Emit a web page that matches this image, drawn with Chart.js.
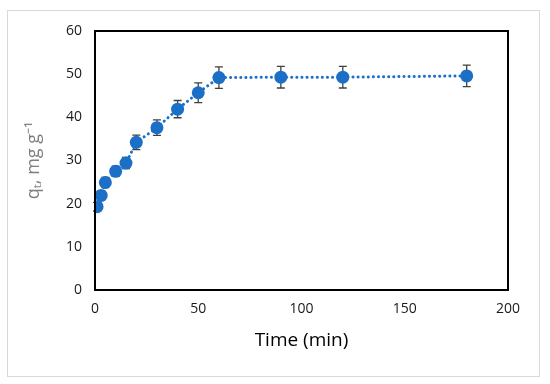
<!DOCTYPE html>
<html lang="en">
<head>
  <meta charset="UTF-8">
  <title>Adsorption kinetics</title>
  <script src="https://cdn.jsdelivr.net/npm/chart.js"></script>
  <style>
    html, body { margin: 0; padding: 0; background: #fff; }
    #wrap { position: relative; width: 550px; height: 384px; }
  </style>
</head>
<body>
  <div id="wrap"><canvas id="kineticsChart" width="550" height="384"></canvas></div>

  <script>
    // data
    const times = [1, 3, 5, 10, 15, 20, 30, 40, 50, 60, 90, 120, 180];
    const qt = [19.3, 21.9, 24.9, 27.5, 29.4, 34.2, 37.6, 41.9, 45.7, 49.2, 49.3, 49.3, 49.6];
    const qtErr = [1.0, 1.1, 1.2, 1.2, 1.3, 1.7, 1.8, 2.0, 2.3, 2.5, 2.5, 2.5, 2.5];

    const xTicks = [0, 50, 100, 150, 200];
    const yTicks = [0, 10, 20, 30, 40, 50, 60];

    const blue = '#1b6fc6';
    const tickFont = { family: 'Open Sans', size: 14 };

    // outer frame + plot box
    const framePlugin = {
      id: 'frame',
      beforeDraw(chart) {
        const ctx = chart.ctx;
        ctx.save();
        ctx.strokeStyle = '#d9d9d9';
        ctx.lineWidth = 1;
        ctx.strokeRect(7.5, 10.5, 532, 366);
        ctx.restore();
      },
      afterDraw(chart) {
        const a = chart.chartArea;
        const ctx = chart.ctx;
        ctx.save();
        ctx.strokeStyle = '#000';
        ctx.lineWidth = 2;
        ctx.strokeRect(a.left, a.top, a.right - a.left, a.bottom - a.top);
        ctx.restore();
      }
    };

    // vertical error bars, drawn under the markers
    const errorBars = {
      id: 'errorBars',
      beforeDatasetsDraw(chart) {
        const ctx = chart.ctx;
        const xs = chart.scales.x, ys = chart.scales.y;
        ctx.save();
        ctx.strokeStyle = '#404040';
        ctx.lineWidth = 1.3;
        times.forEach((t, i) => {
          const x = xs.getPixelForValue(t);
          const top = ys.getPixelForValue(qt[i] + qtErr[i]);
          const bot = ys.getPixelForValue(qt[i] - qtErr[i]);
          ctx.beginPath();
          ctx.moveTo(x, top); ctx.lineTo(x, bot);
          ctx.moveTo(x - 4, top); ctx.lineTo(x + 4, top);
          ctx.moveTo(x - 4, bot); ctx.lineTo(x + 4, bot);
          ctx.stroke();
        });
        ctx.restore();
      }
    };

    new Chart(document.getElementById('kineticsChart'), {
      type: 'line',
      data: {
        datasets: [{
          data: times.map((t, i) => ({ x: t, y: qt[i] })),
          borderColor: blue,
          backgroundColor: blue,
          borderWidth: 3,
          borderDash: [0.1, 5],
          borderCapStyle: 'round',
          pointRadius: 6.5,
          pointBorderWidth: 0,
          pointBackgroundColor: blue,
          tension: 0
        }]
      },
      options: {
        responsive: false,
        animation: false,
        layout: { padding: { top: 31, right: 42, bottom: 0, left: 0 } },
        plugins: { legend: { display: false }, tooltip: { enabled: false } },
        scales: {
          x: {
            type: 'linear',
            min: 0, max: 200,
            afterBuildTicks: s => { s.ticks = xTicks.map(v => ({ value: v })); },
            afterFit: s => { s.height = 94; },
            grid: { display: false, drawTicks: false },
            border: { display: false },
            ticks: { padding: 11, color: '#1a1a1a', font: tickFont, maxRotation: 0 },
            title: {
              display: true,
              text: 'Time (min)',
              color: '#000',
              font: { family: 'Open Sans', size: 19 },
              padding: { top: 0, bottom: 32 }
            }
          },
          y: {
            min: 0, max: 60,
            afterBuildTicks: s => { s.ticks = yTicks.map(v => ({ value: v })); },
            afterFit: s => { s.width = 95; },
            grid: { display: false, drawTicks: false },
            border: { display: false },
            ticks: { padding: 13, color: '#1a1a1a', font: tickFont },
            title: {
              display: true,
              text: 'qₜ, mg g⁻¹',
              color: '#7f7f7f',
              font: { family: 'Open Sans', size: 18 },
              padding: { top: 23, bottom: 0 }
            }
          }
        }
      },
      plugins: [framePlugin, errorBars]
    });
  </script>
</body>
</html>
